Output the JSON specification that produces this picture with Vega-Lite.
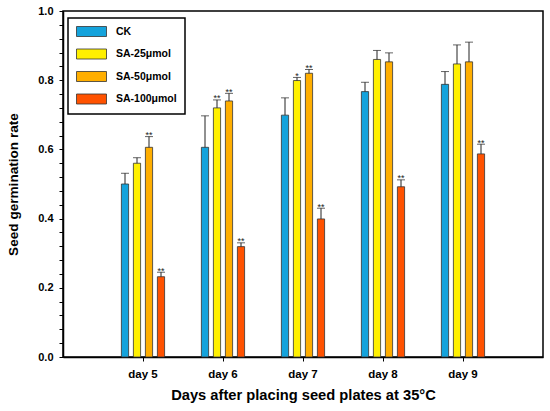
{
  "$schema": "https://vega.github.io/schema/vega-lite/v6.json",
  "width": 480,
  "height": 346,
  "autosize": {"type": "none"},
  "padding": {"left": 63, "top": 11, "right": 7, "bottom": 54},
  "background": "white",
  "data": {
    "values": [
      {"day": "day 5", "group": "CK", "value": 0.500, "upper": 0.531, "sig": ""},
      {"day": "day 5", "group": "SA-25μmol", "value": 0.560, "upper": 0.576, "sig": ""},
      {"day": "day 5", "group": "SA-50μmol", "value": 0.606, "upper": 0.637, "sig": "**"},
      {"day": "day 5", "group": "SA-100μmol", "value": 0.232, "upper": 0.245, "sig": "**"},
      {"day": "day 6", "group": "CK", "value": 0.606, "upper": 0.697, "sig": ""},
      {"day": "day 6", "group": "SA-25μmol", "value": 0.720, "upper": 0.743, "sig": "**"},
      {"day": "day 6", "group": "SA-50μmol", "value": 0.740, "upper": 0.762, "sig": "**"},
      {"day": "day 6", "group": "SA-100μmol", "value": 0.319, "upper": 0.330, "sig": "**"},
      {"day": "day 7", "group": "CK", "value": 0.699, "upper": 0.749, "sig": ""},
      {"day": "day 7", "group": "SA-25μmol", "value": 0.799, "upper": 0.808, "sig": "*"},
      {"day": "day 7", "group": "SA-50μmol", "value": 0.820, "upper": 0.831, "sig": "**"},
      {"day": "day 7", "group": "SA-100μmol", "value": 0.399, "upper": 0.430, "sig": "**"},
      {"day": "day 8", "group": "CK", "value": 0.767, "upper": 0.794, "sig": ""},
      {"day": "day 8", "group": "SA-25μmol", "value": 0.860, "upper": 0.886, "sig": ""},
      {"day": "day 8", "group": "SA-50μmol", "value": 0.853, "upper": 0.879, "sig": ""},
      {"day": "day 8", "group": "SA-100μmol", "value": 0.492, "upper": 0.512, "sig": "**"},
      {"day": "day 9", "group": "CK", "value": 0.788, "upper": 0.825, "sig": ""},
      {"day": "day 9", "group": "SA-25μmol", "value": 0.847, "upper": 0.902, "sig": ""},
      {"day": "day 9", "group": "SA-50μmol", "value": 0.853, "upper": 0.910, "sig": ""},
      {"day": "day 9", "group": "SA-100μmol", "value": 0.587, "upper": 0.615, "sig": "**"}
    ]
  },
  "encoding": {
    "x": {
      "field": "day",
      "type": "nominal",
      "scale": {"paddingInner": 0.4, "paddingOuter": 0.7},
      "axis": {
        "title": "Days after placing seed plates at 35°C",
        "labelAngle": 0,
        "labelFontSize": 11.5,
        "labelPadding": 7,
        "titleFontSize": 14.7,
        "titlePadding": 8
      }
    },
    "xOffset": {
      "field": "group",
      "sort": ["CK", "SA-25μmol", "SA-50μmol", "SA-100μmol"],
      "scale": {"paddingInner": 0.4, "paddingOuter": 0.2}
    }
  },
  "layer": [
    {
      "mark": {"type": "bar", "stroke": "#333333", "strokeWidth": 0.8},
      "encoding": {
        "y": {
          "field": "value",
          "type": "quantitative",
          "scale": {"domain": [0, 1], "nice": false},
          "axis": {
            "title": "Seed germination rate",
            "values": [0, 0.04, 0.08, 0.12, 0.16, 0.2, 0.24, 0.28, 0.32, 0.36, 0.4, 0.44, 0.48, 0.52, 0.56, 0.6, 0.64, 0.68, 0.72, 0.76, 0.8, 0.84, 0.88, 0.92, 0.96, 1.0],
            "tickCount": 40,
            "labelExpr": "abs(datum.value * 5 - round(datum.value * 5)) < 0.001 ? format(datum.value, '.1f') : ''",
            "labelOverlap": false,
            "labelFlush": false,
            "labelBound": false,
            "labelFontSize": 11,
            "labelPadding": 6,
            "titleFontSize": 13.6,
            "titlePadding": 17
          }
        },
        "color": {
          "field": "group",
          "type": "nominal",
          "scale": {
            "domain": ["CK", "SA-25μmol", "SA-50μmol", "SA-100μmol"],
            "range": ["#14A3DC", "#FFF000", "#FFAE00", "#FF5200"]
          },
          "legend": {
            "title": null,
            "orient": "none",
            "legendX": 5,
            "legendY": 7
          }
        }
      }
    },
    {
      "mark": {"type": "rule", "color": "#222222", "strokeWidth": 1},
      "encoding": {
        "y": {"field": "value", "type": "quantitative"},
        "y2": {"field": "upper"}
      }
    },
    {
      "mark": {"type": "tick", "color": "#222222", "thickness": 1, "size": 8},
      "encoding": {
        "y": {"field": "upper", "type": "quantitative"}
      }
    },
    {
      "mark": {"type": "text", "fontSize": 9, "dy": 1.5, "baseline": "alphabetic", "color": "#222222"},
      "encoding": {
        "y": {"field": "upper", "type": "quantitative"},
        "text": {"field": "sig"}
      }
    }
  ],
  "config": {
    "font": "Liberation Sans",
    "view": {"stroke": "black", "strokeWidth": 1.5},
    "axis": {
      "domainColor": "black",
      "domainWidth": 1.5,
      "tickColor": "black",
      "tickWidth": 1,
      "tickSize": 4,
      "grid": false,
      "labelColor": "black",
      "labelFontWeight": "bold",
      "titleColor": "black",
      "titleFontWeight": "bold"
    },
    "legend": {
      "symbolType": "M-1,-1H5V1H-1Z",
      "symbolSize": 100,
      "symbolStrokeColor": "#333333",
      "symbolStrokeWidth": 0.8,
      "symbolOpacity": 1,
      "labelFontSize": 10.5,
      "labelFontWeight": "bold",
      "labelColor": "black",
      "labelOffset": 29,
      "padding": 8,
      "rowPadding": 7.5,
      "strokeColor": "black",
      "strokeWidth": 1.5,
      "fillColor": "white"
    }
  }
}
